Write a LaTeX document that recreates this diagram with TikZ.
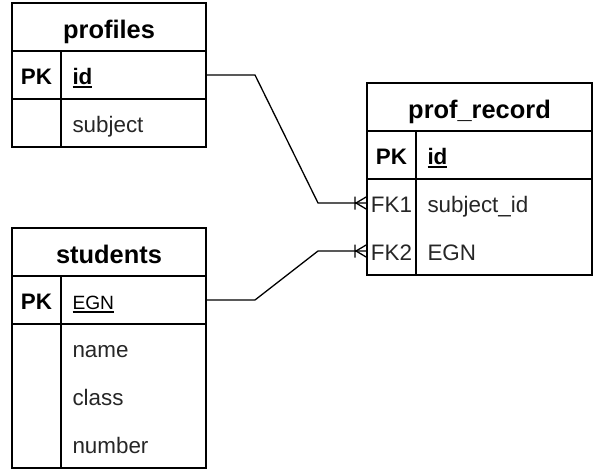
\documentclass[tikz,border=0pt]{standalone}
\usepackage{fontspec}
\setmainfont{Liberation Sans}
\usetikzlibrary{positioning, calc}

\newcommand{\keyname}[1]{\setbox0\hbox{#1}\rlap{\rule[-3.1pt]{\wd0}{1.6pt}}\box0}

\tikzset{
  tblhead/.style={draw, line width=1.4pt, outer sep=0pt, inner sep=0pt, minimum width=#1, minimum height=48pt,
    font=\fontsize{25.4}{30}\selectfont\bfseries, text height=27pt, text depth=4.5pt},
  keycol/.style={outer sep=0pt, inner sep=0pt, minimum width=49pt, minimum height=48pt,
    font=\fontsize{22.4}{27}\selectfont, text=black!85, text height=24.5pt, text depth=5pt},
  pk/.style={keycol, font=\fontsize{22.4}{27}\selectfont\bfseries, text=black},
  fieldcol/.style={outer sep=0pt, inner xsep=11.5pt, inner ysep=0pt, text width=#1, minimum height=48pt, align=left,
    font=\fontsize{22.4}{27}\selectfont, text=black!85, text height=24.5pt, text depth=5pt},
  boxed/.style={draw, line width=1.4pt},
  frame/.style={line width=1.4pt},
  link/.style={line width=1.3pt},
  manyend/.pic={\draw[link] (-11,0) -- (0,-6.5) (-11,0) -- (0,6.5) (-12,-6.5) -- (-12,6.5);}
}

\begin{document}
\begin{tikzpicture}[x=1pt, y=-1pt]
  \useasboundingbox (0,0) rectangle (593,470);

  % profiles
  \node[tblhead=194pt] (prof) at (109,27) {profiles};
  \node[pk, boxed, anchor=north west] (prof-k1) at (prof.south west) {PK};
  \node[fieldcol=122pt, boxed, anchor=north west, text=black, font=\fontsize{22.4}{27}\selectfont\bfseries] (prof-f1) at (prof-k1.north east) {\keyname{id}};
  \node[keycol, boxed, anchor=north west] (prof-k2) at (prof-k1.south west) {};
  \node[fieldcol=122pt, boxed, anchor=north west] (prof-f2) at (prof-k2.north east) {subject};

  % students
  \node[tblhead=194pt] (stud) at (109,252) {students};
  \node[pk, boxed, anchor=north west] (stud-k1) at (stud.south west) {PK};
  \node[fieldcol=122pt, boxed, anchor=north west, text=black, font=\fontsize{19.2}{23}\selectfont] (stud-f1) at (stud-k1.north east) {\keyname{EGN}};
  \node[keycol, anchor=north west] (stud-k2) at (stud-k1.south west) {};
  \node[keycol, anchor=north west] (stud-k3) at (stud-k2.south west) {};
  \node[keycol, anchor=north west] (stud-k4) at (stud-k3.south west) {};
  \node[fieldcol=122pt, anchor=north west] (stud-f2) at (stud-k2.north east) {name};
  \node[fieldcol=122pt, anchor=north west] (stud-f3) at (stud-k3.north east) {class};
  \node[fieldcol=122pt, anchor=north west] (stud-f4) at (stud-k4.north east) {number};
  \draw[frame] (stud-k2.north west) rectangle (stud-f4.south east);
  \draw[frame] (stud-k2.north east) -- (stud-k4.south east);

  % prof_record
  \node[tblhead=225pt] (rec) at (479.5,107) {prof\_record};
  \node[pk, boxed, anchor=north west] (rec-k1) at (rec.south west) {PK};
  \node[fieldcol=153pt, boxed, anchor=north west, text=black, font=\fontsize{22.4}{27}\selectfont\bfseries] (rec-f1) at (rec-k1.north east) {\keyname{id}};
  \node[keycol, anchor=north west] (rec-k2) at (rec-k1.south west) {FK1};
  \node[keycol, anchor=north west] (rec-k3) at (rec-k2.south west) {FK2};
  \node[fieldcol=153pt, anchor=north west] (rec-f2) at (rec-k2.north east) {subject\_id};
  \node[fieldcol=153pt, anchor=north west] (rec-f3) at (rec-k3.north east) {EGN};
  \draw[frame] (rec-k2.north west) rectangle (rec-f3.south east);
  \draw[frame] (rec-k2.north east) -- (rec-k3.south east);

  % relations
  \draw[link] (prof-f1.east) -- ++(49,0) -- ($(rec-k2.west)+(-49,0)$) -- (rec-k2.west);
  \draw[link] (stud-f1.east) -- ++(49,0) -- ($(rec-k3.west)+(-49,0)$) -- (rec-k3.west);
  \pic at (rec-k2.west) {manyend};
  \pic at (rec-k3.west) {manyend};
\end{tikzpicture}
\end{document}
